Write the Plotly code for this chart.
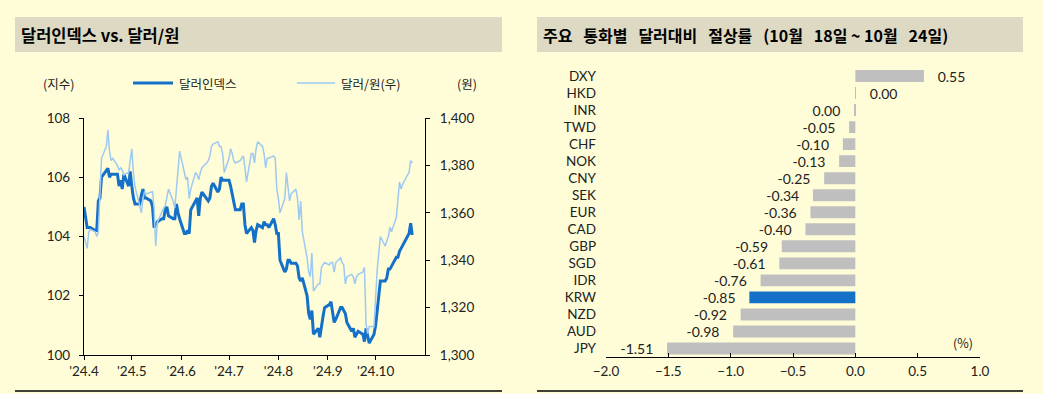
import plotly.graph_objects as go

# ---------------- Data: left chart ----------------
dxy_dates = ["04-01","04-02","04-03","04-04","04-05","04-08","04-09","04-10","04-11","04-12",
             "04-15","04-16","04-17","04-18","04-19","04-22","04-23","04-24","04-25","04-26",
             "04-29","04-30","05-01","05-02","05-03","05-06","05-07","05-08","05-09","05-10",
             "05-13","05-14","05-15","05-16","05-17","05-20","05-21","05-22","05-23","05-24",
             "05-27","05-28","05-29","05-30","05-31","06-03","06-04","06-05","06-06","06-07",
             "06-10","06-11","06-12","06-13","06-14","06-17","06-18","06-19","06-20","06-21",
             "06-24","06-25","06-26","06-27","06-28","07-01","07-02","07-03","07-05","07-08",
             "07-09","07-10","07-11","07-12","07-15","07-16","07-17","07-18","07-19","07-22",
             "07-23","07-24","07-25","07-26","07-29","07-30","07-31","08-01","08-02","08-05",
             "08-06","08-07","08-08","08-09","08-12","08-13","08-14","08-15","08-16","08-19",
             "08-20","08-21","08-22","08-23","08-26","08-27","08-28","08-29","08-30","09-02",
             "09-03","09-04","09-05","09-06","09-09","09-10","09-11","09-12","09-13","09-16",
             "09-17","09-18","09-19","09-20","09-23","09-24","09-25","09-26","09-27","09-30",
             "10-01","10-02","10-03","10-04","10-07","10-08","10-09","10-10","10-11","10-14",
             "10-15","10-16","10-17","10-18","10-21","10-22","10-23","10-24"]
dxy_values = [105.0,104.7,104.3,104.3,104.3,104.2,104.2,105.2,105.3,106.0,
              106.2,106.3,106.0,106.1,106.1,106.1,105.7,105.9,105.6,106.1,
              105.7,106.2,105.7,105.3,105.1,105.1,105.4,105.6,105.3,105.3,
              105.2,105.0,104.3,104.4,104.5,104.6,104.6,104.9,105.0,104.7,
              104.6,104.6,105.1,104.8,104.6,104.1,104.1,104.2,104.1,104.9,
              105.2,105.3,104.7,105.3,105.5,105.3,105.2,105.3,105.7,105.8,
              105.5,105.6,106.0,105.9,105.9,105.9,105.7,105.4,104.9,104.9,
              105.1,105.1,104.4,104.1,104.3,104.2,103.8,104.2,104.4,104.3,
              104.5,104.4,104.4,104.3,104.6,104.4,104.1,104.1,103.2,102.8,
              102.9,103.2,103.2,103.1,103.1,103.0,102.6,102.5,102.6,102.0,
              101.4,101.2,101.5,100.7,100.9,100.6,101.0,101.3,101.6,101.7,
              101.8,101.4,101.1,101.2,101.6,101.6,101.5,101.4,101.1,100.8,
              100.9,100.6,100.7,100.8,100.7,100.45,100.9,100.6,100.4,100.7,
              101.0,101.5,102.0,102.5,102.5,102.6,102.9,102.9,103.0,103.3,
              103.3,103.5,103.6,103.7,104.0,104.1,104.45,104.05]

krw_dates = ["04-01","04-02","04-03","04-04","04-05","04-08","04-09","04-10","04-11","04-12",
             "04-15","04-16","04-17","04-18","04-19","04-22","04-23","04-24","04-25","04-26",
             "04-29","04-30","05-01","05-02","05-03","05-06","05-07","05-08","05-09","05-10",
             "05-13","05-14","05-15","05-16","05-17","05-20","05-21","05-22","05-23","05-24",
             "05-27","05-28","05-29","05-30","05-31","06-03","06-04","06-05","06-06","06-07",
             "06-10","06-11","06-12","06-13","06-14","06-17","06-18","06-19","06-20","06-21",
             "06-24","06-25","06-26","06-27","06-28","07-01","07-02","07-03","07-04","07-05",
             "07-08","07-09","07-10","07-11","07-12","07-15","07-16","07-17","07-18","07-19",
             "07-22","07-23","07-24","07-25","07-26","07-29","07-30","07-31","08-01","08-02",
             "08-05","08-06","08-07","08-08","08-09","08-12","08-13","08-14","08-15","08-16",
             "08-19","08-20","08-21","08-22","08-23","08-26","08-27","08-28","08-29","08-30",
             "09-02","09-03","09-04","09-05","09-06","09-09","09-10","09-11","09-12","09-13",
             "09-16","09-17","09-18","09-19","09-20","09-23","09-24","09-25","09-26","09-27",
             "09-30","10-01","10-02","10-03","10-04","10-07","10-08","10-09","10-10","10-11",
             "10-14","10-15","10-16","10-17","10-18","10-21","10-22","10-23","10-24"]
krw_values = [1350,1347,1345,1352,1353,1352,1350,1352,1366,1383,
              1388,1395,1386,1382,1383,1380,1378,1379,1378,1376,
              1377,1382,1387,1377,1371,1363,1360,1366,1369,1368,
              1369,1369,1362,1346,1356,1361,1362,1363,1366,1370,
              1365,1362,1370,1379,1386,1377,1374,1375,1366,1370,
              1377,1376,1374,1377,1379,1381,1382,1384,1388,1389,
              1390,1388,1388,1385,1377,1383,1387,1385,1382,1381,
              1382,1383,1384,1379,1373,1385,1385,1381,1387,1390,
              1388,1385,1379,1383,1383,1384,1383,1370,1366,1360,
              1366,1377,1372,1365,1368,1370,1366,1357,1365,1352,
              1341,1335,1333,1343,1327,1330,1330,1337,1338,1339,
              1338,1339,1339,1335,1339,1341,1339,1338,1330,1333,
              1334,1333,1330,1333,1334,1335,1337,1313,1309,1312,
              1312,1326,1336,1343,1350,1346,1348,1350,1354,1352,
              1358,1366,1373,1370,1372,1376,1377,1382,1381]

month_ticks = ["2024-04-01","2024-05-01","2024-06-01","2024-07-01","2024-08-01","2024-09-01","2024-10-01"]
month_labels = ["'24.4","'24.5","'24.6","'24.7","'24.8","'24.9","'24.10"]

# ---------------- Data: right chart ----------------
currencies = ["DXY","HKD","INR","TWD","CHF","NOK","CNY","SEK","EUR","CAD",
              "GBP","SGD","IDR","KRW","NZD","AUD","JPY"]
change_pct = [0.55,0.004,-0.003,-0.05,-0.10,-0.13,-0.25,-0.34,-0.36,-0.40,
              -0.59,-0.61,-0.76,-0.85,-0.92,-0.98,-1.51]
highlight = "KRW"

# ---------------- Styles ----------------
W, H = 1043, 394
FONT = "Noto Sans CJK KR"
NUMFONT = "Lato"
BG = "#FFFDD8"
BANNER = "#DDD9C3"
DARK = "#1570C8"
LIGHT = "#9DC9F2"
GRAY = "#BFBFBF"
TXT = "#222222"

def px_x(p):
    return p / W

def px_y(p):
    return (H - p) / H

fig = go.Figure()

fig.add_trace(go.Scatter(
    x=["2024-" + d for d in krw_dates], y=krw_values, mode="lines",
    line=dict(color=LIGHT, width=1.5), xaxis="x", yaxis="y2",
    name="달러/원(우)", showlegend=False, hoverinfo="skip"))
fig.add_trace(go.Scatter(
    x=["2024-" + d for d in dxy_dates], y=dxy_values, mode="lines",
    line=dict(color=DARK, width=3), xaxis="x", yaxis="y",
    name="달러인덱스", showlegend=False, hoverinfo="skip"))

def fmt(v):
    s = f"{v:.2f}"
    if s == "-0.00":
        s = "0.00"
    return s

nb = "\u00a0" * 3
bar_text = [(fmt(v) + nb) if v < 0 else (nb + fmt(v)) for v in change_pct]
bar_colors = [DARK if c == highlight else GRAY for c in currencies]

fig.add_trace(go.Bar(
    x=change_pct, y=currencies, orientation="h", xaxis="x2", yaxis="y3",
    marker=dict(color=bar_colors, line=dict(width=0)),
    text=bar_text, textposition="outside", cliponaxis=False, constraintext="none",
    textfont=dict(family=NUMFONT, size=14, color=TXT),
    showlegend=False, hoverinfo="skip"))

# ---------- layout geometry ----------
L_x0, L_x1, L_ytop, L_ybot = 84, 425, 118, 355
R_x0, R_x1, R_ytop, R_ybot = 606, 980, 67.5, 357
xr = [-2.0, 1.0]
zero_pos = px_x(R_x0 + (0 - xr[0]) / (xr[1] - xr[0]) * (R_x1 - R_x0))
n = len(currencies)

axis_common = dict(showgrid=False, zeroline=False, showline=True, linecolor="black",
                   linewidth=1.3, tickcolor="black", tickwidth=1.3, automargin=False,
                   tickfont=dict(family=NUMFONT, size=13.5, color=TXT))

fig.update_layout(
    width=W, height=H, margin=dict(l=0, r=0, t=0, b=0, pad=0, autoexpand=False),
    paper_bgcolor=BG, plot_bgcolor="rgba(0,0,0,0)",
    font=dict(family=FONT, color=TXT),
    bargap=0.3,
    xaxis=dict(domain=[px_x(L_x0), px_x(L_x1)], anchor="y", type="date",
               range=["2024-04-01", "2024-11-01"], tickvals=month_ticks, ticktext=month_labels,
               ticks="outside", ticklen=4, **axis_common),
    yaxis=dict(domain=[px_y(L_ybot), px_y(L_ytop)], anchor="x", range=[100, 108], dtick=2,
               ticks="outside", ticklen=4, ticklabelstandoff=6, **axis_common),
    yaxis2=dict(overlaying="y", side="right", anchor="x", range=[1300, 1400], dtick=20,
                tickformat=",", ticks="outside", ticklen=4, ticklabelstandoff=7, **axis_common),
    xaxis2=dict(domain=[px_x(R_x0), px_x(R_x1)], anchor="y3", range=xr, dtick=0.5,
                tickformat=".1f", ticks="inside", ticklen=4, ticklabelstandoff=2, **axis_common),
    yaxis3=dict(domain=[px_y(R_ybot), px_y(R_ytop)], anchor="x2", type="category",
                categoryorder="array", categoryarray=currencies, range=[n - 0.5, -0.5],
                showgrid=False, zeroline=False, showline=False, ticks="", automargin=False,
                ticklabelstandoff=9,
                tickfont=dict(family=NUMFONT, size=13.5, color=TXT)),
    yaxis4=dict(overlaying="y3", anchor="free", position=zero_pos, range=[n - 0.5, -0.5],
                tickmode="array", tickvals=[i - 0.5 for i in range(n + 1)],
                showticklabels=False, ticks="outside", ticklen=3, showgrid=False,
                zeroline=False, showline=True, linecolor="black", linewidth=1.3,
                tickcolor="black", tickwidth=1.3, automargin=False),
)

# Title banners and bottom rules
shapes = []
for (x0, x1) in [(15, 502), (537, 1023)]:
    shapes.append(dict(type="rect", xref="paper", yref="paper", x0=px_x(x0), x1=px_x(x1),
                       y0=px_y(52), y1=px_y(17), fillcolor=BANNER, line=dict(width=0), layer="below"))
    shapes.append(dict(type="line", xref="paper", yref="paper", x0=px_x(x0), x1=px_x(x1),
                       y0=px_y(391), y1=px_y(391), line=dict(color="black", width=1.5)))
# legend samples (left chart)
shapes.append(dict(type="line", xref="paper", yref="paper", x0=px_x(133), x1=px_x(173),
                   y0=px_y(83), y1=px_y(83), line=dict(color=DARK, width=3)))
shapes.append(dict(type="line", xref="paper", yref="paper", x0=px_x(297), x1=px_x(335),
                   y0=px_y(83), y1=px_y(83), line=dict(color=LIGHT, width=1.5)))
fig.update_layout(shapes=shapes)

ann = []
def add_text(text, x, y, xanchor="left", size=12.5, bold=False):
    ann.append(dict(text=f"<b>{text}</b>" if bold else text, xref="paper", yref="paper",
                    x=px_x(x), y=px_y(y), xanchor=xanchor, yanchor="middle", showarrow=False,
                    font=dict(family=FONT, size=size, color="black" if bold else TXT)))

sp = "\u00a0\u00a0\u00a0"
add_text("달러인덱스 vs. 달러/원", 19, 35, size=16.5, bold=True)
add_text(sp.join(["주요", "통화별", "달러대비", "절상률", "(10월", "18일 ~ 10월", "24일)"]),
         541, 35, size=16, bold=True)
add_text("(지수)", 58, 83, xanchor="center")
add_text("(원)", 467, 83, xanchor="center")
add_text("달러인덱스", 177, 83)
add_text("달러/원(우)", 339, 83)
add_text("(%)", 963, 342, xanchor="center")
fig.update_layout(annotations=ann)

fig.write_html("out.html",
               config={"displayModeBar": False},
               post_script="document.body.style.margin='0px';"
                           "document.body.style.overflow='hidden';"
                           "document.body.style.background='" + BG + "';")
